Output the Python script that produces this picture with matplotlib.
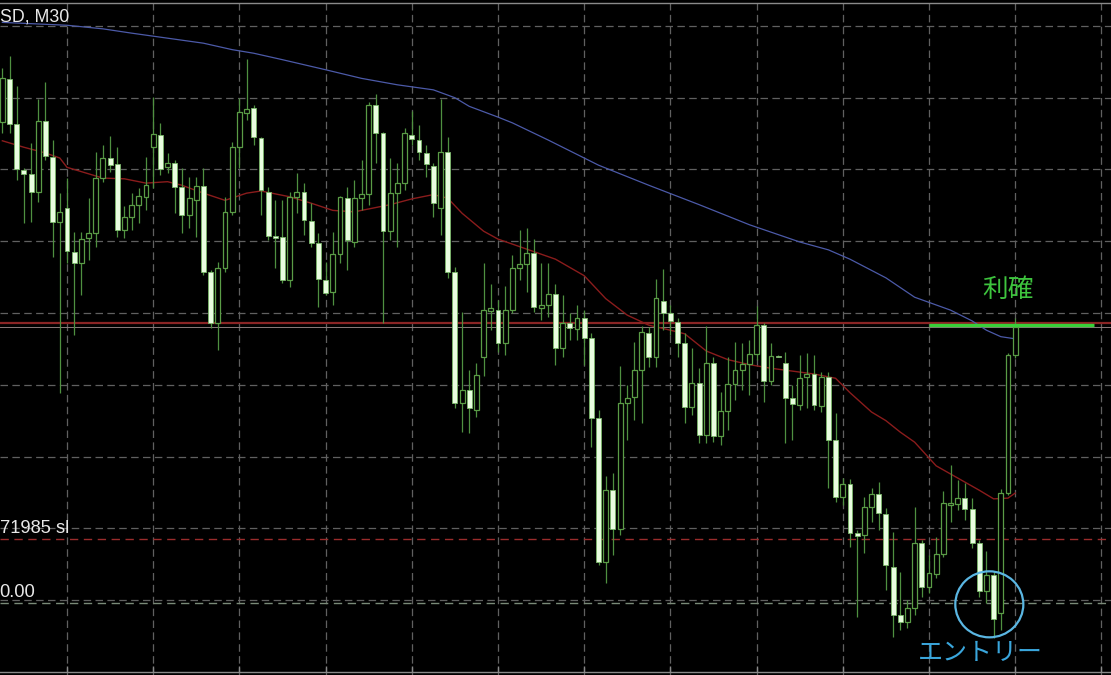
import numpy as np
import matplotlib
matplotlib.use("Agg")
import matplotlib.pyplot as plt
from matplotlib.patches import Ellipse

# ---------------- data (prices in points, 1 point = 0.00001) ----------------
open_pts = [72566, 72626, 72563, 72499, 72494, 72469, 72568, 72517, 72427, 72446,
            72385, 72370, 72405, 72411, 72488, 72516, 72508, 72416, 72434, 72451,
            72462, 72531, 72548, 72503, 72509, 72476, 72437, 72457, 72477, 72357,
            72286, 72363, 72441, 72531, 72579, 72586, 72544, 72469, 72407, 72406,
            72346, 72462, 72469, 72428, 72397, 72346, 72329, 72382, 72460, 72399,
            72460, 72466, 72590, 72551, 72414, 72467, 72481, 72548, 72541, 72523,
            72505, 72446, 72524, 72357, 72175, 72193, 72165, 72239, 72303, 72304,
            72258, 72304, 72363, 72368, 72384, 72307, 72311, 72326, 72251, 72286,
            72278, 72293, 72265, 72154, 71953, 72053, 71999, 72175, 72183, 72221,
            72272, 72239, 72317, 72300, 72287, 72258, 72169, 72202, 72130, 72230,
            72129, 72163, 72201, 72221, 72229, 72243, 72283, 72205, 72240, 72230,
            72182, 72172, 72211, 72215, 72170, 72211, 72123, 72044, 72062, 71993,
            71990, 72030, 72048, 72020, 71946, 71879, 71869, 71889, 71979, 71918,
            71936, 71964, 72032, 72034, 72042, 72027, 71979, 71912, 71935, 71882,
            72049, 72241]
high_pts = [72641, 72658, 72616, 72502, 72537, 72598, 72622, 72541, 72467, 72488,
            72413, 72413, 72460, 72524, 72534, 72547, 72531, 72449, 72467, 72474,
            72517, 72601, 72565, 72523, 72513, 72502, 72490, 72490, 72502, 72360,
            72371, 72462, 72538, 72600, 72654, 72590, 72545, 72476, 72457, 72457,
            72469, 72495, 72481, 72453, 72411, 72371, 72413, 72463, 72476, 72485,
            72513, 72594, 72605, 72552, 72516, 72509, 72558, 72581, 72562, 72534,
            72509, 72598, 72545, 72364, 72301, 72221, 72230, 72370, 72340, 72318,
            72338, 72381, 72416, 72419, 72403, 72370, 72370, 72340, 72325, 72300,
            72311, 72304, 72272, 72165, 72073, 72077, 72226, 72200, 72260, 72282,
            72281, 72347, 72361, 72311, 72293, 72272, 72251, 72223, 72282, 72239,
            72190, 72239, 72260, 72258, 72262, 72310, 72286, 72258, 72241, 72245,
            72200, 72241, 72244, 72241, 72218, 72218, 72161, 72070, 72069, 71997,
            72044, 72056, 72064, 72028, 71995, 71939, 71900, 72030, 71984, 71963,
            71988, 72052, 72088, 72067, 72063, 72042, 71984, 71968, 71939, 72055,
            72244, 72293]
low_pts = [72551, 72551, 72485, 72425, 72427, 72455, 72513, 72378, 72188, 72370,
           72269, 72325, 72374, 72392, 72483, 72497, 72406, 72405, 72416, 72425,
           72444, 72474, 72492, 72495, 72439, 72411, 72419, 72406, 72353, 72279,
           72248, 72357, 72437, 72502, 72569, 72534, 72437, 72402, 72363, 72342,
           72336, 72439, 72409, 72392, 72308, 72325, 72311, 72370, 72360, 72392,
           72444, 72451, 72509, 72286, 72402, 72392, 72471, 72534, 72513, 72490,
           72434, 72409, 72349, 72168, 72134, 72133, 72155, 72212, 72276, 72245,
           72241, 72300, 72346, 72329, 72301, 72290, 72294, 72228, 72239, 72262,
           72262, 72228, 72113, 71949, 71924, 71963, 71990, 72123, 72151, 72147,
           72225, 72225, 72276, 72269, 72239, 72147, 72158, 72119, 72119, 72120,
           72116, 72137, 72179, 72193, 72186, 72234, 72176, 72200, 72238, 72119,
           72123, 72165, 72168, 72165, 72162, 72056, 72037, 72032, 71974, 71876,
           71965, 72009, 71998, 71914, 71848, 71858, 71861, 71879, 71904, 71910,
           71931, 71960, 72009, 72025, 72011, 71972, 71904, 71896, 71847, 71858,
           72046, 72237]
close_pts = [72627, 72563, 72501, 72494, 72469, 72568, 72519, 72427, 72441, 72386,
             72370, 72403, 72411, 72488, 72516, 72506, 72416, 72434, 72451, 72463,
             72478, 72549, 72501, 72509, 72476, 72437, 72460, 72477, 72357, 72286,
             72363, 72441, 72531, 72580, 72584, 72545, 72471, 72407, 72405, 72346,
             72462, 72469, 72430, 72397, 72347, 72328, 72382, 72462, 72402, 72460,
             72466, 72590, 72551, 72414, 72467, 72481, 72551, 72542, 72524, 72508,
             72453, 72524, 72357, 72175, 72193, 72168, 72214, 72304, 72307, 72258,
             72304, 72363, 72368, 72384, 72308, 72311, 72326, 72251, 72286, 72279,
             72293, 72265, 72154, 71953, 72053, 71999, 72175, 72182, 72221, 72274,
             72239, 72321, 72300, 72289, 72258, 72169, 72202, 72130, 72230, 72129,
             72163, 72201, 72221, 72229, 72243, 72283, 72205, 72240, 72239, 72182,
             72173, 72210, 72215, 72172, 72211, 72123, 72044, 72062, 71993, 71989,
             72030, 72048, 72021, 71949, 71879, 71869, 71889, 71979, 71918, 71938,
             71964, 72035, 72035, 72042, 72027, 71979, 71912, 71935, 71874, 72049,
             72241, 72280]

# moving averages read at selected bar indices
ma_red_idx = [0, 3, 6, 8, 9, 11, 14, 17, 20, 23, 25, 28, 31, 34, 36, 40, 43, 46, 49, 51,
              54, 57, 60, 62, 64, 67, 69, 73, 77, 81, 84, 87, 90, 93, 95, 98, 101, 104,
              107, 110, 113, 116, 118, 121, 123, 125, 127, 130, 133, 136, 138, 140, 141]
ma_red_pts = [72540, 72531, 72523, 72516, 72503, 72497, 72488, 72487, 72481, 72483,
              72478, 72467, 72457, 72467, 72470, 72462, 72453, 72443, 72441, 72445,
              72451, 72459, 72465, 72460, 72439, 72414, 72403, 72389, 72375, 72352,
              72320, 72297, 72283, 72276, 72271, 72247, 72235, 72228, 72223, 72219,
              72215, 72209, 72189, 72162, 72150, 72134, 72120, 72087, 72070, 72053,
              72041, 72042, 72049]
ma_blue_idx = [0, 9, 14, 18, 23, 28, 32, 35, 39, 45, 50, 55, 60, 63, 65, 69, 71, 76, 83,
               90, 97, 104, 111, 115, 118, 123, 127, 132, 135, 137, 139, 141]
ma_blue_pts = [72705, 72701, 72696, 72690, 72683, 72676, 72667, 72662, 72653, 72639,
               72627, 72618, 72611, 72600, 72588, 72573, 72565, 72541, 72506, 72478,
               72451, 72423, 72399, 72388, 72375, 72349, 72322, 72304, 72289, 72276,
               72267, 72264]

# horizontal levels
tp_pts = 72283
tp_red_pts = 72286
tp_light_pts = 72281
sl_pts = 71985
entry_pts = 71896
grid_levels_pts = [71900, 72000, 72100, 72200, 72300, 72400, 72500, 72600, 72700]

symbol_label = "SD, M30"
sl_label = "71985 sl"
entry_label = "0.00"
tp_text = "利確"
entry_text = "エントリー"

# ---------------- conversion ----------------
P = 1e-5
o = np.array(open_pts) * P
h = np.array(high_pts) * P
l = np.array(low_pts) * P
c = np.array(close_pts) * P
n = len(o)
idx = np.arange(n)

# ---------------- figure ----------------
W, H = 1111, 675
fig = plt.figure(figsize=(W / 100, H / 100), dpi=100)
fig.patch.set_facecolor("black")
ax = fig.add_axes([0, 0, 1, 1])
ax.set_facecolor("black")
ax.set_axis_off()

x_left, x_right = -0.327, 154.34
y_bottom, y_top = 0.717955, 0.727362
ax.set_xlim(x_left, x_right)
ax.set_ylim(y_bottom, y_top)
px = 1.3937 * P  # price per pixel

grid_col = "#606060"
dash = (0, (6, 3.5))
for g in grid_levels_pts:
    ax.axhline(g * P, color=grid_col, lw=0.9, ls=dash, zorder=1)
vgrid = np.arange(9, 154, 12)
for v in vgrid:
    ax.axvline(v, color=grid_col, lw=0.9, ls=dash, zorder=1)

# top / bottom frame lines
ax.axhline(y_top - 3 * px, color="#8a8a8a", lw=1.0, zorder=2)
y_bot_line = y_bottom + 2.5 * px
ax.axhline(y_bot_line, color="#8a8a8a", lw=1.0, zorder=2)
ax.vlines(vgrid, y_bot_line, y_bot_line + 6 * px, color="#8a8a8a", lw=1.0, zorder=2)

# level lines
ax.axhline(tp_red_pts * P, color="#8a2424", lw=1.6, zorder=2)
ax.axhline(tp_light_pts * P, color="#8c7b7b", lw=0.7, zorder=2)
ax.axhline(sl_pts * P, color="#9a2c2c", lw=1.0, ls=(0, (6, 4)), zorder=2)
ax.axhline(entry_pts * P, color="#7a8a78", lw=1.0, ls=(0, (6, 4)), zorder=2)

# moving averages
ax.plot(ma_red_idx, np.array(ma_red_pts) * P, color="#8a1c1c", lw=1.0, zorder=3)
ax.plot(ma_blue_idx, np.array(ma_blue_pts) * P, color="#4c5aa8", lw=0.9, zorder=3)

# candles
wick_col = "#4f9040"
ax.vlines(idx, l, h, color=wick_col, lw=0.9, zorder=4)
bw = 0.68
bull = c >= o
bear = ~bull
body_lo = np.minimum(o, c)
body_hi = np.maximum(o, c)
body_h = np.maximum(body_hi - body_lo, 0.3 * P)
ax.bar(idx[bull], body_h[bull], bottom=body_lo[bull], width=bw,
       facecolor="black", edgecolor="#5a9c46", linewidth=0.9, zorder=5)
ax.bar(idx[bear], body_h[bear], bottom=body_lo[bear], width=bw,
       facecolor="#e9fde0", edgecolor="#7ab86a", linewidth=0.6, zorder=5)

# take-profit green line
ax.hlines(tp_pts * P, 129, 152, color="#38cf38", lw=2.4, zorder=6)

# circle around entry
ax.add_patch(Ellipse((137.4, 0.71894), width=9.47, height=0.00092,
                     facecolor="none", edgecolor="#5ab6e2", lw=1.6, zorder=7))

# texts
latin = ["Liberation Sans", "DejaVu Sans"]
cjk = ["Noto Sans CJK JP", "DejaVu Sans"]
ax.text(x_left - 0.05, 0.72712, symbol_label, color="#e8e8e8", fontsize=12.8,
        family=latin, ha="left", va="center", zorder=8)
ax.text(x_left - 0.05, 0.71999, sl_label, color="#e8e8e8", fontsize=13.2,
        family=latin, ha="left", va="center", zorder=8)
ax.text(x_left - 0.05, 0.71910, entry_label, color="#e8e8e8", fontsize=13.2,
        family=latin, ha="left", va="center", zorder=8)
ax.text(140.0, 0.72332, tp_text, color="#3ec43e", fontsize=18.5,
        family=cjk, ha="center", va="center", zorder=8)
ax.text(136.1, 0.71826, entry_text, color="#3aa6dc", fontsize=18,
        family=cjk, ha="center", va="center", zorder=8)

fig.savefig("out.png", dpi=100, facecolor="black")
